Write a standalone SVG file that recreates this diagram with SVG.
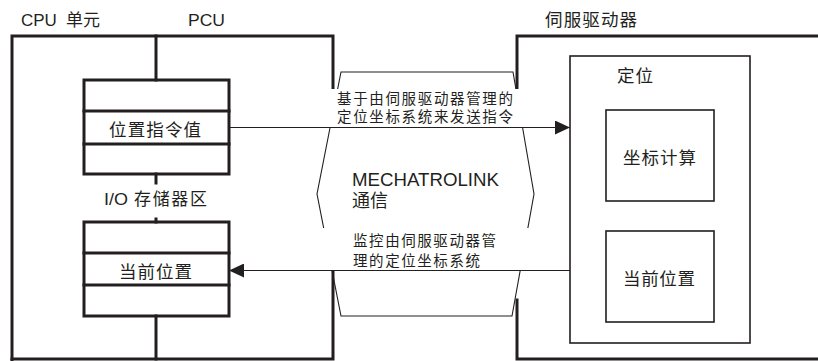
<svg xmlns="http://www.w3.org/2000/svg" width="818" height="361" viewBox="0 0 818 361">
<style>
.thick{fill:none;stroke:#231f20;stroke-width:3;stroke-linecap:square}
.mid{fill:none;stroke:#231f20;stroke-width:1.6}
.thin{fill:none;stroke:#231f20;stroke-width:1.1}
.t{font-family:"Liberation Sans","Noto Sans CJK SC",sans-serif;fill:#231f20}
.c{font-family:"Noto Sans CJK SC","Liberation Sans",sans-serif;fill:#231f20}
</style>
<defs>
<marker id="ah" markerWidth="16" markerHeight="14" refX="15" refY="7" orient="auto" markerUnits="userSpaceOnUse">
<path d="M0,0 L15,7 L0,14 Z" fill="#231f20"/>
</marker>
</defs>
<rect width="818" height="361" fill="#fff"/>

<g id="cpu-unit">
<path class="thick" d="M12,360 V36 H333 V88"/>
<path class="thick" d="M333,272 V359 H12"/>
<path class="thick" d="M156,36 V80 M156,174 V183 M156,219 V222 M156,316 V359"/>
<text class="t" x="21" y="26" font-size="17">CPU <tspan x="66" font-family="Noto Sans CJK SC, sans-serif" font-size="17">单元</tspan></text>
<text class="t" x="188" y="26" font-size="17" textLength="37" lengthAdjust="spacingAndGlyphs">PCU</text>
</g>

<g id="position-command-box">
<rect class="thick" x="84" y="80" width="145" height="94" fill="#fff"/>
<path class="thick" d="M84,111 H229 M84,144 H229"/>
<text class="c" x="109" y="136" font-size="17.5" textLength="92" lengthAdjust="spacing">位置指令值</text>
</g>

<g id="io-memory-label">
<text class="t" x="104" y="205" font-size="17"><tspan textLength="24" lengthAdjust="spacingAndGlyphs">I/O</tspan><tspan class="c" x="134" textLength="73" lengthAdjust="spacing">存储器区</tspan></text>
</g>

<g id="current-position-box-left">
<rect class="thick" x="84" y="222" width="145" height="94" fill="#fff"/>
<path class="thick" d="M84,253 H229 M84,285 H229"/>
<text class="c" x="119" y="278" font-size="17.5" textLength="73" lengthAdjust="spacing">当前位置</text>
</g>

<g id="servo-drive">
<path class="thick" d="M517,89 V36 H818"/>
<path class="thick" d="M517,300 V359 H818"/>
<text class="c" x="545" y="26" font-size="17.5" textLength="92" lengthAdjust="spacing">伺服驱动器</text>
</g>

<g id="mechatrolink">
<polygon class="thin" points="341,72 513,72 534,194 512,316 341,316 317,194" fill="#fff"/>
<rect x="316" y="89" width="220" height="38" fill="#fff"/>
<rect x="316" y="228" width="220" height="42" fill="#fff"/>
<text class="t" x="352" y="186" font-size="17.5" textLength="147" lengthAdjust="spacingAndGlyphs">MECHATROLINK</text>
<text class="c" x="352" y="207" font-size="18">通信</text>
</g>

<g id="positioning">
<rect class="mid" x="570" y="56" width="180" height="287" fill="#fff"/>
<text class="c" x="617" y="82" font-size="17.5" textLength="36" lengthAdjust="spacing">定位</text>
</g>

<g id="coordinate-calc">
<rect class="mid" x="606" y="110" width="108" height="91"/>
<text class="c" x="623" y="164" font-size="17.5" textLength="73" lengthAdjust="spacing">坐标计算</text>
</g>

<g id="current-position-box-right">
<rect class="mid" x="606" y="231" width="108" height="91"/>
<text class="c" x="623" y="285" font-size="17.5" textLength="72" lengthAdjust="spacing">当前位置</text>
</g>

<g id="connectors">
<line class="thin" x1="229" y1="127.5" x2="570" y2="127.5" marker-end="url(#ah)"/>
<line class="thin" x1="570" y1="270.5" x2="229" y2="270.5" marker-end="url(#ah)"/>
<text class="c" font-size="14.5"><tspan x="337" y="104" textLength="176" lengthAdjust="spacing">基于由伺服驱动器管理的</tspan><tspan x="337" y="122" textLength="176" lengthAdjust="spacing">定位坐标系统来发送指令</tspan></text>
<text class="c" font-size="14.5"><tspan x="353" y="246" textLength="143" lengthAdjust="spacing">监控由伺服驱动器管</tspan><tspan x="353" y="266" textLength="127" lengthAdjust="spacing">理的定位坐标系统</tspan></text>
</g>
</svg>
